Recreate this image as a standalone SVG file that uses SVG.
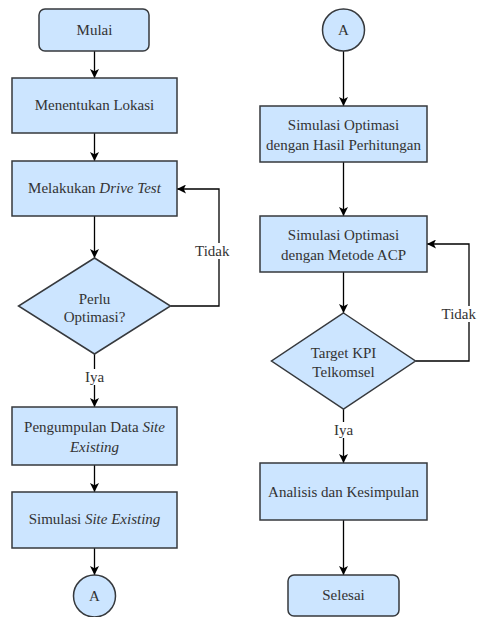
<svg xmlns="http://www.w3.org/2000/svg" width="477" height="617" viewBox="0 0 477 617">
<style>
.n{fill:#cce5ff;stroke:#36393d;stroke-width:1.5}
.t{font-family:'Liberation Serif','Times New Roman',serif;font-size:15px;fill:#333;text-anchor:middle}
.c{fill:none;stroke:#000;stroke-width:1.3}
.l{font-family:'Liberation Serif','Times New Roman',serif;font-size:15px;fill:#333}
</style>
<defs>
<marker id="ah" viewBox="0 0 10 10" refX="10" refY="5" markerWidth="9" markerHeight="9" markerUnits="userSpaceOnUse" orient="auto">
<path d="M0,0 L10,5 L0,10 L2.5,5 Z" fill="#000"/>
</marker>
</defs>
<rect width="477" height="617" fill="#fff"/>
<g id="connectors">
<path class="c" d="M94.5,51 V78" marker-end="url(#ah)"/>
<path class="c" d="M94.5,133 V161" marker-end="url(#ah)"/>
<path class="c" d="M94.5,216 V258" marker-end="url(#ah)"/>
<path class="c" d="M170.5,306 H219 V189 H177" marker-end="url(#ah)"/>
<path class="c" d="M94.5,354 V407" marker-end="url(#ah)"/>
<path class="c" d="M94.5,465 V492" marker-end="url(#ah)"/>
<path class="c" d="M94.5,548 V575" marker-end="url(#ah)"/>
<path class="c" d="M343.5,51 V106" marker-end="url(#ah)"/>
<path class="c" d="M343.5,162 V216" marker-end="url(#ah)"/>
<path class="c" d="M343.5,272 V313" marker-end="url(#ah)"/>
<path class="c" d="M415.5,361 H469 V244 H427" marker-end="url(#ah)"/>
<path class="c" d="M343.5,409 V463" marker-end="url(#ah)"/>
<path class="c" d="M343.5,520 V575" marker-end="url(#ah)"/>
<rect x="194" y="243" width="37" height="16" fill="#fff"/>
<text class="l" x="195" y="256">Tidak</text>
<rect x="441" y="306" width="36" height="16" fill="#fff"/>
<text class="l" x="441.5" y="319">Tidak</text>
<rect x="82" y="369" width="25" height="16" fill="#fff"/>
<text class="t" x="94.5" y="382">Iya</text>
<rect x="331" y="422" width="25" height="16" fill="#fff"/>
<text class="t" x="343.5" y="435">Iya</text>
</g>
<g id="mulai">
<rect class="n" x="39" y="9" width="110" height="42" rx="6"/>
<text class="t" x="94.5" y="35">Mulai</text>
</g>
<g id="menentukan">
<rect class="n" x="12" y="78" width="165" height="55"/>
<text class="t" x="94.5" y="110">Menentukan Lokasi</text>
</g>
<g id="drivetest">
<rect class="n" x="12" y="161" width="165" height="55"/>
<text class="t" x="94.5" y="193">Melakukan <tspan font-style="italic">Drive Test</tspan></text>
</g>
<g id="perlu">
<polygon class="n" points="94.5,258 170.5,306 94.5,354 18.5,306"/>
<text class="t" x="94.5" y="304">Perlu</text>
<text class="t" x="94.5" y="322">Optimasi?</text>
</g>
<g id="pengumpulan">
<rect class="n" x="12" y="407" width="165" height="58"/>
<text class="t" x="94.5" y="432">Pengumpulan Data <tspan font-style="italic">Site</tspan></text>
<text class="t" x="94.5" y="452" font-style="italic">Existing</text>
</g>
<g id="simexisting">
<rect class="n" x="12" y="492" width="165" height="56"/>
<text class="t" x="94.5" y="524">Simulasi <tspan font-style="italic">Site Existing</tspan></text>
</g>
<g id="a1">
<circle class="n" cx="94.5" cy="596" r="21"/>
<text class="t" x="94.5" y="601">A</text>
</g>
<g id="a2">
<circle class="n" cx="343.5" cy="30" r="21"/>
<text class="t" x="343.5" y="35">A</text>
</g>
<g id="simhasil">
<rect class="n" x="260" y="106" width="167" height="56"/>
<text class="t" x="343.5" y="130">Simulasi Optimasi</text>
<text class="t" x="343.5" y="150">dengan Hasil Perhitungan</text>
</g>
<g id="simacp">
<rect class="n" x="260" y="216" width="167" height="56"/>
<text class="t" x="343.5" y="240">Simulasi Optimasi</text>
<text class="t" x="343.5" y="260">dengan Metode ACP</text>
</g>
<g id="kpi">
<polygon class="n" points="343.5,313 415.5,361 343.5,409 271.5,361"/>
<text class="t" x="343.5" y="358">Target KPI</text>
<text class="t" x="343.5" y="377">Telkomsel</text>
</g>
<g id="analisis">
<rect class="n" x="260" y="463" width="167" height="57"/>
<text class="t" x="343.5" y="497">Analisis dan Kesimpulan</text>
</g>
<g id="selesai">
<rect class="n" x="288" y="575" width="111" height="41" rx="6"/>
<text class="t" x="343.5" y="600">Selesai</text>
</g>
</svg>
